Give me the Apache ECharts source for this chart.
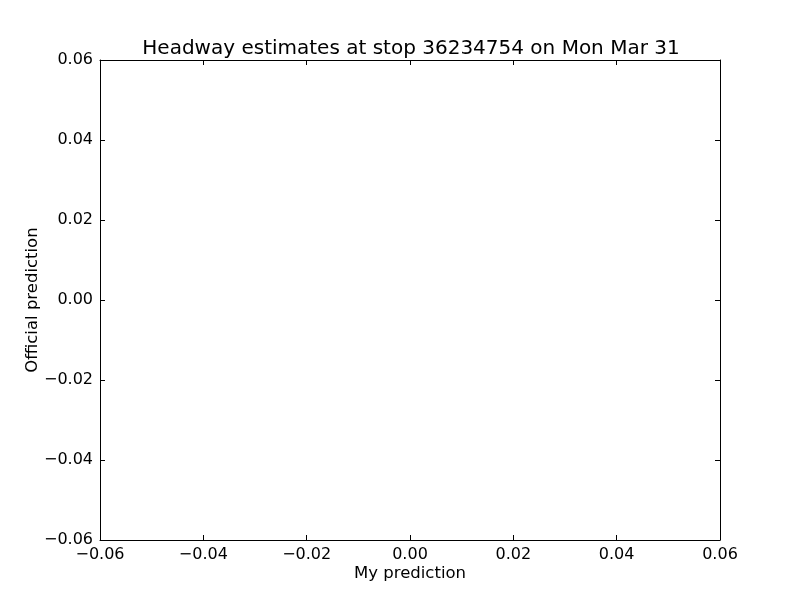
<!DOCTYPE html>
<html><head><meta charset="utf-8">
<script src="https://cdn.jsdelivr.net/npm/echarts@6/dist/echarts.min.js"></script>
<style>html,body{margin:0;padding:0;background:#fff}#c{width:800px;height:600px}</style>
</head><body><div id="c"></div>
<script>
const titleText = "Headway estimates at stop 36234754 on Mon Mar 31";
const xName = "My prediction";
const yName = "Official prediction";
const myPrediction = [];
const officialPrediction = [];
const axisMin = -0.06, axisMax = 0.06, axisStep = 0.02;

const font = "DejaVu Sans";
const fmt = v => v.toFixed(2).replace("-", "\u2212");
const points = myPrediction.map((x, i) => [x, officialPrediction[i]]);

function mkAxis(pos, showLabel, name, nameGap, rotate, labelMargin) {
  return {
    type: 'value', position: pos, min: axisMin, max: axisMax, interval: axisStep,
    name: name || '', nameLocation: 'middle', nameGap: nameGap || 0, nameRotate: rotate,
    nameMoveOverlap: false,
    nameTextStyle: {fontFamily: font, fontSize: 16.5, color: '#000'},
    axisLine: {show: true, onZero: false, lineStyle: {color: '#000', width: 1}},
    axisTick: {show: true, inside: true, length: 5, lineStyle: {color: '#000'}},
    axisLabel: {show: showLabel, formatter: fmt, fontFamily: font, fontSize: 16, color: '#000', margin: labelMargin || 7},
    splitLine: {show: false}
  };
}

const chart = echarts.init(document.getElementById('c'), null, {renderer: 'canvas'});
chart.setOption({
  animation: false,
  backgroundColor: '#fff',
  title: {text: titleText, left: 406, top: 34, textAlign: 'center',
    textStyle: {fontFamily: font, fontSize: 20, fontWeight: 'normal', color: '#000'}},
  grid: {left: 100, right: 80, top: 60, bottom: 60, containLabel: false},
  xAxis: [mkAxis('bottom', true, xName, 25, undefined, 7), mkAxis('top', false)],
  yAxis: [mkAxis('left', true, yName, 59, 90, 7), mkAxis('right', false)],
  series: [{type: 'scatter', data: points, xAxisIndex: 0, yAxisIndex: 0, symbolSize: 6, itemStyle: {color: '#0000ff'}}]
});
</script></body></html>
